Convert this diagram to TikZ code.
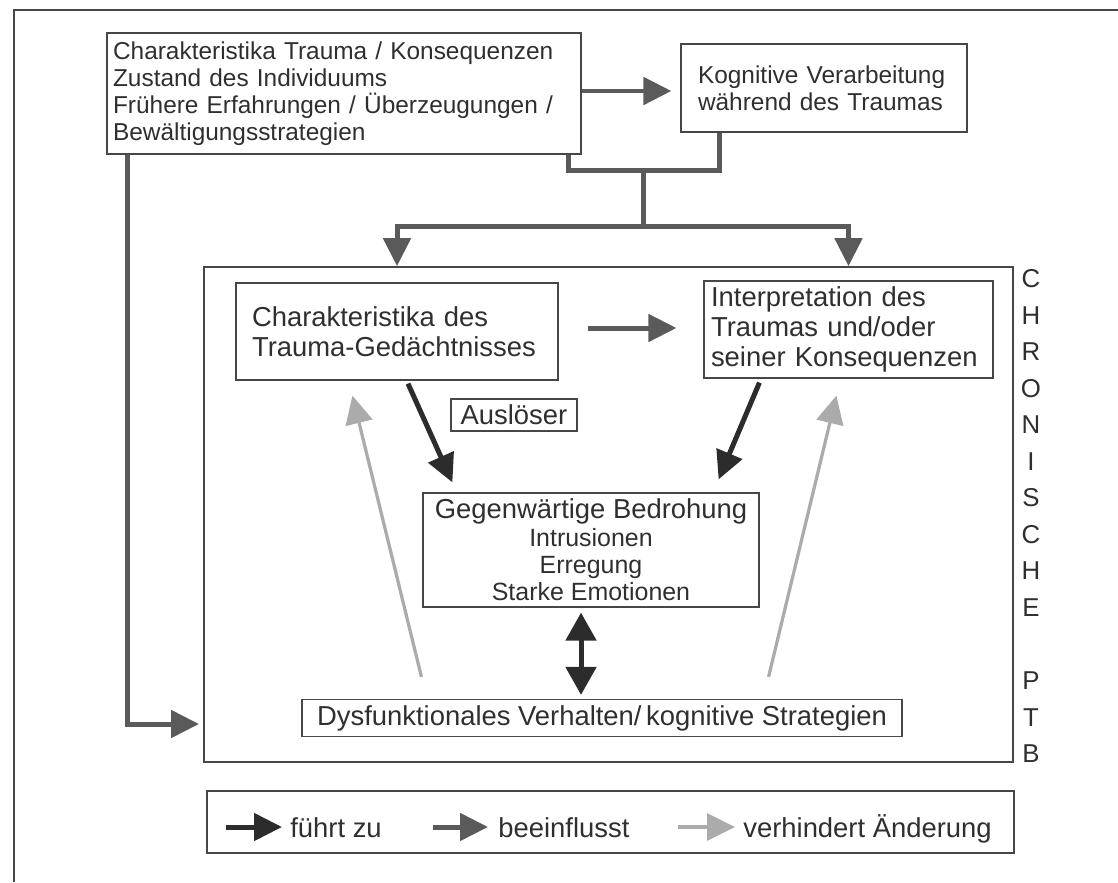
\documentclass[tikz,border=0pt]{standalone}
\usepackage{fontspec}
\setmainfont{Liberation Sans}
\usepackage{tikz}
\usetikzlibrary{arrows.meta,calc}

\definecolor{textgray}{HTML}{2F2F2F}
\definecolor{leadgray}{HTML}{2C2C2C}
\definecolor{inflgray}{HTML}{5A5A5A}
\definecolor{blockgray}{HTML}{ABABAB}
\definecolor{framegray}{HTML}{474747}

\tikzset{
  box/.style={draw=framegray, line width=0.7pt, inner sep=0pt, text=textgray},
  smalltext/.style={font=\fontsize{13.9}{15.3}\selectfont},
  bigtext/.style={font=\fontsize{15.6}{17}\selectfont},
  label/.style={inner sep=0pt, text=textgray, bigtext},
  tipshape/.style={-{Triangle[length=0.56cm,width=0.54cm]}},
  lead/.style={draw=leadgray, line width=0.1cm, tipshape},
  infl/.style={draw=inflgray, line width=0.1cm},
  block/.style={draw=blockgray, line width=0.065cm, tipshape}
}

\begin{document}
\begin{tikzpicture}[x=0.02cm, y=-0.02cm]
  \useasboundingbox (0,0) rectangle (1118,882);
  \draw[framegray, line width=0.6pt] (14,882) -- (14,10) -- (1118,10);

  \node[box, smalltext, text width=9.24cm, inner xsep=0.12cm, minimum height=2.42cm, align=left] (trauma) at (344,93.5)
    {Charakteristika Trauma / Konsequenzen\\Zustand des Individuums\\Frühere Erfahrungen / Überzeugungen /\\Bewältigungsstrategien};
  \node[box, smalltext, text width=5.04cm, inner xsep=0.34cm, minimum height=1.76cm, align=left] (cognition) at (824,88)
    {Kognitive Verarbeitung\\während des Traumas};

  \node[box, line width=1pt, minimum width=16.18cm, minimum height=9.9cm] (chron) at (608.5,514.5) {};
  \node[box, bigtext, text width=5.8cm, inner xsep=0.32cm, minimum height=1.94cm, align=left] (memo) at (397,331.5)
    {Charakteristika des\\Trauma-Gedächtnisses};
  \node[box, bigtext, text width=5.5cm, inner xsep=0.14cm, minimum height=1.94cm, align=left] (interp) at (848.5,329.5)
    {Interpretation des\\Traumas und/oder\\seiner Konsequenzen};
  \node[box, bigtext, minimum width=2.52cm, minimum height=0.64cm] (trigger) at (514,415) {Auslöser};
  \node[box, font=\fontsize{14.2}{15.6}\selectfont, minimum width=6.72cm, minimum height=2.28cm, align=center] (threat) at (591,550)
    {{\fontsize{15.6}{15.6}\selectfont Gegenwärtige Bedrohung}\\Intrusionen\\Erregung\\Starke Emotionen};
  \node[box, bigtext, minimum width=12cm, minimum height=0.74cm] (coping) at (602,718)
    {Dysfunktionales Verhalten/\,kognitive Strategien};
  \node[text=textgray, font=\fontsize{14.7}{20.8}\selectfont, align=center, inner sep=0pt] (ptb) at (1031,516)
    {C\\H\\R\\O\\N\\I\\S\\C\\H\\E\\[20.8pt]P\\T\\B};

  \coordinate (join) at (643,170);
  \coordinate (split) at (643,226);
  \coordinate (entry) at (199,724);
  \draw[infl, tipshape] ($(trauma.east)+(0,-2.5)$) -- ($(cognition.west)+(-9,3)$);
  \draw[infl] ($(trauma.south east)+(-13,0)$) |- (join);
  \draw[infl] ($(cognition.south west)+(39,0)$) |- (join);
  \draw[infl] (join) -- (split);
  \draw[infl, tipshape] (split) -| (memo |- chron.north);
  \draw[infl, tipshape] (split) -| (interp |- chron.north);
  \draw[infl, tipshape] ($(trauma.south west)+(21,0)$) |- (entry);

  \draw[infl, tipshape] ($(memo.east)+(29,-3.5)$) -- ($(interp.west)+(-27,-1.5)$);
  \draw[lead] ($(memo.south)+(11,3)$) -- ($(threat.north west)+(30,-10)$);
  \draw[lead] ($(interp.south west)+(56,4)$) -- ($(threat.north east)+(-41,-13)$);
  \draw[draw=leadgray, line width=0.1cm, {Triangle[length=0.56cm,width=0.6cm]}-{Triangle[length=0.56cm,width=0.6cm]}]
    ($(threat.south)+(-10,5)$) -- ($(coping.north)+(-21,-4)$);
  \draw[block] ($(coping.north west)+(120,-22)$) -- ($(memo.south west)+(117,15)$);
  \draw[block] ($(coping.north east)+(-134,-22)$) -- ($(interp.south west)+(133,17)$);

  \node[box, minimum width=16.14cm, minimum height=1.24cm] (legend) at (610.5,822) {};
  \node[label, anchor=base west] (lgLead) at (290,837) {führt zu};
  \node[label, anchor=base west] (lgInfl) at (498,837) {beeinflusst};
  \node[label, anchor=base west] (lgBlock) at (743,837) {verhindert Änderung};
  \draw[lead] ($(lgLead.base west)+(-64,-10)$) -- ($(lgLead.base west)+(-8,-10)$);
  \draw[infl, tipshape] ($(lgInfl.base west)+(-65,-10)$) -- ($(lgInfl.base west)+(-10,-10)$);
  \draw[block] ($(lgBlock.base west)+(-65,-10)$) -- ($(lgBlock.base west)+(-8,-10)$);
\end{tikzpicture}
\end{document}
